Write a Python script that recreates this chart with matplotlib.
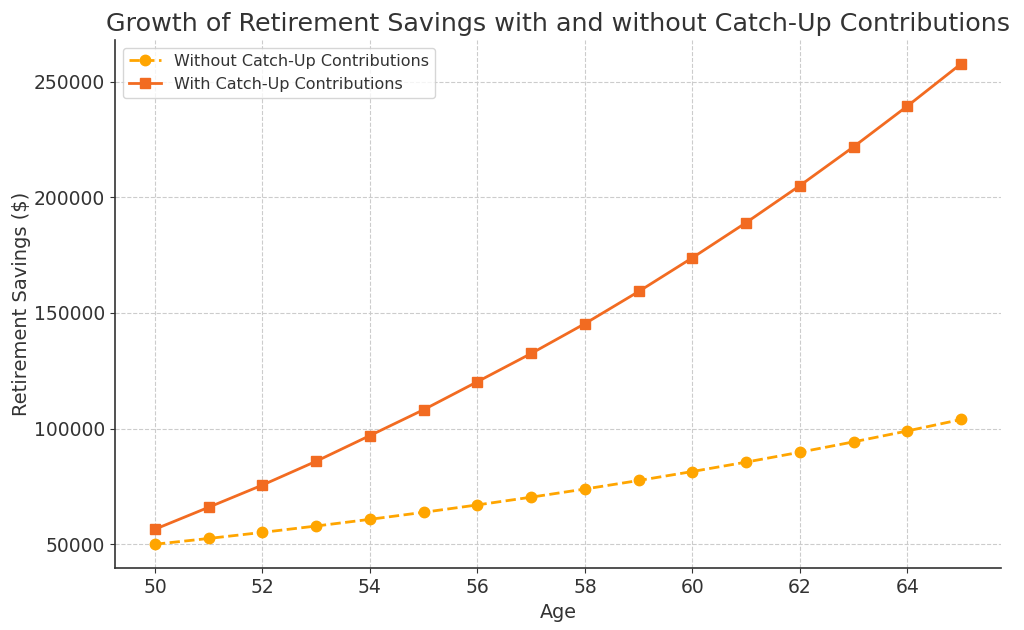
import matplotlib.pyplot as plt

ages = list(range(50, 66))
without_catchup = [50000, 52500, 55125, 57881, 60775, 63814, 67005, 70355,
                   73873, 77566, 81445, 85517, 89793, 94282, 98997, 103946]
with_catchup = [56500, 66000, 75600, 85900, 97000, 108200, 120300, 132500,
                145400, 159300, 173900, 189100, 205100, 221900, 239500, 257800]

fig, ax = plt.subplots(figsize=(10.24, 6.3), dpi=100)
fig.subplots_adjust(left=0.112, right=0.978, bottom=0.098, top=0.937)

ax.plot(ages, without_catchup, color="#FFA500", linestyle="--", marker="o",
        linewidth=2, markersize=7.5, label="Without Catch-Up Contributions")
ax.plot(ages, with_catchup, color="#F26B21", linestyle="-", marker="s",
        linewidth=2, markersize=7.5, label="With Catch-Up Contributions")

ax.set_title("Growth of Retirement Savings with and without Catch-Up Contributions",
             fontsize=18.3, color="#333333")
ax.set_xlabel("Age", fontsize=13.8, color="#333333")
ax.set_ylabel("Retirement Savings ($)", fontsize=14, color="#333333", labelpad=2)
ax.tick_params(labelsize=13.5, colors="#333333")
ax.grid(True, linestyle="--", color="#cccccc", linewidth=0.8)
ax.set_axisbelow(True)
for side in ["top", "right"]:
    ax.spines[side].set_visible(False)
for side in ["left", "bottom"]:
    ax.spines[side].set_color("#333333")
    ax.spines[side].set_linewidth(1.2)

leg = ax.legend(loc="upper left", fontsize=11.5)
for text in leg.get_texts():
    text.set_color("#333333")

fig.savefig("out.png")
